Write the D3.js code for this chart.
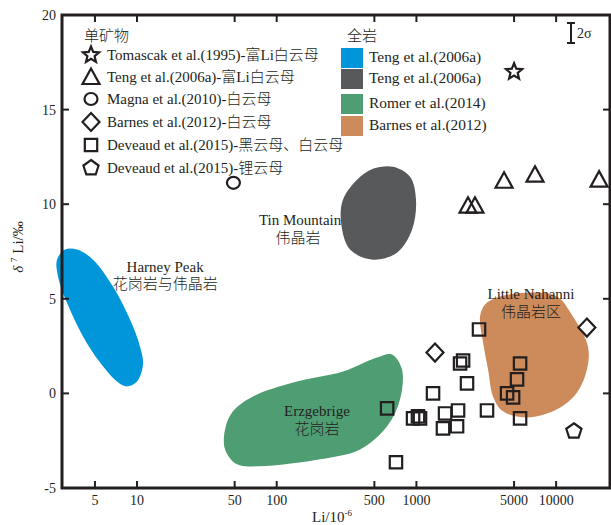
<!DOCTYPE html>
<html><head><meta charset="utf-8">
<script src="https://cdn.jsdelivr.net/npm/d3@7/dist/d3.min.js"></script>
<style>body{margin:0;background:#fff}svg{display:block}text{font-weight:300}</style>
</head><body>
<svg id="c" width="611" height="525"></svg>
<script>
// ---------- data ----------
const xTicks = [5, 10, 50, 100, 500, 1000, 5000, 10000];
const yTicks = [-5, 0, 5, 10, 15, 20];

const starData = [[5000, 17.0]];
const triangleData = [[2340, 9.92], [2625, 9.92], [4240, 11.24], [7060, 11.56], [20300, 11.3]];
const circleData = [[49, 11.13]];
const diamondData = [[1358, 2.16], [16600, 3.48]];
const squareData = [
  [2806, 3.38], [2158, 1.74], [2053, 1.58], [5520, 1.58], [5250, 0.74], [2302, 0.53],
  [1315, 0.0], [4456, 0.0], [4920, -0.21], [617, -0.79], [3200, -0.9], [1986, -0.9],
  [1603, -1.06], [946, -1.32], [1026, -1.21], [1061, -1.32], [5520, -1.32],
  [1954, -1.74], [1549, -1.85], [714, -3.64]
];
const pentagonData = [[13400, -2.0]];

const harneyPeak = [[3.05,7.6],[2.675,7.07],[2.72,6.17],[3.15,4.8],[4.11,3.01],[5.43,1.64],[7.19,0.63],[8.48,0.37],[10,0.63],[11.04,1.53],[10.5,2.48],[8.91,3.9],[6.73,5.65],[4.84,7.07],[3.72,7.6]];
const tinMountain = [[680,11.98],[900,11.45],[993,10.24],[930,8.65],[726,7.44],[489,7.07],[335,7.6],[289,9.02],[298,10.24],[376,11.29],[489,11.87]];
const erzgebrige = [[668,2.06],[788,1.27],[763,-0.32],[617,-1.74],[395,-2.96],[204,-3.48],[75.9,-3.85],[52,-3.75],[42.7,-2.96],[42.7,-1.9],[48.6,-0.95],[67.6,-0.16],[131,0.58],[298,1.16],[522,1.9]];
const littleNahanni = [[3776,5.07],[6500,5.33],[10140,5.12],[13200,4.06],[16900,2.48],[16630,1.27],[14110,0.05],[10140,-0.84],[6190,-1.27],[4170,-0.95],[3535,-0.16],[3255,1.27],[3000,2.69],[2853,4.06],[3098,4.7]];

const fieldColors = ["#0096d9", "#58595b", "#4f9e73", "#cd8a5b"];
const mineralLegend = [
  "Tomascak et al.(1995)-富Li白云母",
  "Teng et al.(2006a)-富Li白云母",
  "Magna et al.(2010)-白云母",
  "Barnes et al.(2012)-白云母",
  "Deveaud et al.(2015)-黑云母、白云母",
  "Deveaud et al.(2015)-锂云母"
];
const rockLegend = ["Teng et al.(2006a)", "Teng et al.(2006a)", "Romer et al.(2014)", "Barnes et al.(2012)"];

// ---------- chart ----------
const svg = d3.select("#c");
const x = d3.scaleLog().domain([2.905, 24300]).range([62, 610]);
const y = d3.scaleLinear().domain([-5, 20]).range([488, 15]);
const serif = "'Liberation Serif','Times New Roman','Noto Sans CJK SC',serif";
const ink = "#231f20";

// fields
const areaLine = d3.line().x(d => x(d[0])).y(d => y(d[1])).curve(d3.curveCatmullRomClosed.alpha(0.5));
[harneyPeak, tinMountain, erzgebrige, littleNahanni].forEach((pts, i) => {
  svg.append("path").attr("d", areaLine(pts)).attr("fill", fieldColors[i]);
});

// field labels
const labels = [
  {t: "Harney Peak", x: 15.9, y: 6.42, a: "middle"},
  {t: "花岗岩与伟晶岩", x: 15.9, y: 5.5, a: "middle"},
  {t: "Tin Mountain", x: 290, y: 8.9, a: "end"},
  {t: "伟晶岩", x: 142, y: 7.95, a: "middle"},
  {t: "Erzgebrige", x: 194, y: -1.2, a: "middle"},
  {t: "花岗岩", x: 194, y: -2.15, a: "middle"},
  {t: "Little Nahanni", x: 6610, y: 5.0, a: "middle"},
  {t: "伟晶岩区", x: 6610, y: 4.05, a: "middle"}
];
svg.selectAll(".lbl").data(labels).enter().append("text")
  .attr("x", d => x(d.x)).attr("y", d => y(d.y))
  .attr("text-anchor", d => d.a)
  .attr("font-family", serif).attr("font-size", 15).attr("fill", "#231f20")
  .text(d => d.t);

// frame + axes
const g = svg.append("g");
g.append("rect").attr("x", 62).attr("y", 15).attr("width", 548).attr("height", 473)
  .attr("fill", "none").attr("stroke", ink).attr("stroke-width", 3);
const tl = 7;
xTicks.forEach(v => {
  g.append("line").attr("x1", x(v)).attr("x2", x(v)).attr("y1", 488).attr("y2", 488 - tl).attr("stroke", ink).attr("stroke-width", 2);
  g.append("line").attr("x1", x(v)).attr("x2", x(v)).attr("y1", 15).attr("y2", 15 + tl).attr("stroke", ink).attr("stroke-width", 2);
  g.append("text").attr("x", x(v)).attr("y", 505).attr("text-anchor", "middle")
    .attr("font-family", serif).attr("font-size", 14).attr("fill", ink).text(v);
});
yTicks.forEach(v => {
  g.append("line").attr("x1", 62).attr("x2", 62 + tl).attr("y1", y(v)).attr("y2", y(v)).attr("stroke", ink).attr("stroke-width", 2);
  g.append("line").attr("x1", 610).attr("x2", 610 - tl).attr("y1", y(v)).attr("y2", y(v)).attr("stroke", ink).attr("stroke-width", 2);
  g.append("text").attr("x", 56).attr("y", y(v) + 5).attr("text-anchor", "end")
    .attr("font-family", serif).attr("font-size", 14).attr("fill", ink).text(v);
});
// axis titles
const xt = svg.append("text").attr("x", 312).attr("y", 522).attr("font-family", serif).attr("font-size", 15).attr("fill", ink);
xt.append("tspan").text("Li/10");
xt.append("tspan").attr("dy", -6).attr("font-size", 9).text("-6");
const yt = svg.append("text").attr("transform", "translate(23,247) rotate(-90)").attr("text-anchor", "middle")
  .attr("font-family", serif).attr("font-size", 15).attr("fill", ink);
yt.append("tspan").attr("font-style", "italic").text("δ ");
yt.append("tspan").attr("dy", -6).attr("font-size", 9).text("7");
yt.append("tspan").attr("dy", 6).text(" Li/‰");

// 2 sigma bar
g.append("path").attr("d", "M567,23H575M571,23V43M567,43H575").attr("stroke", ink).attr("stroke-width", 2).attr("fill", "none");
g.append("text").attr("x", 577).attr("y", 38).attr("font-family", serif).attr("font-size", 14).attr("fill", ink).text("2σ");

// ---------- marker shapes ----------
function starPath(R, r) {
  const p = [];
  for (let i = 0; i < 10; i++) {
    const rad = i % 2 ? r : R, a = -Math.PI / 2 + i * Math.PI / 5;
    p.push([rad * Math.cos(a), rad * Math.sin(a)]);
  }
  return "M" + p.map(q => q.join(",")).join("L") + "Z";
}
function polyPath(n, R) {
  const p = [];
  for (let i = 0; i < n; i++) { const a = -Math.PI / 2 + i * 2 * Math.PI / n; p.push([R * Math.cos(a), R * Math.sin(a)]); }
  return "M" + p.map(q => q.join(",")).join("L") + "Z";
}
const shapes = {
  star: starPath(8.5, 3.8),
  triangle: "M0,-8.5L8.5,7L-8.5,7Z",
  circle: "M-6.5,0A6.5,6,0,1,0,6.5,0A6.5,6,0,1,0,-6.5,0Z",
  diamond: "M0,-9L8.5,0L0,9L-8.5,0Z",
  square: "M-6.2,-6.2H6.2V6.2H-6.2Z",
  pentagon: polyPath(5, 8)
};
function plot(data, shape) {
  svg.selectAll(null).data(data).enter().append("path")
    .attr("transform", d => `translate(${x(d[0])},${y(d[1])})`)
    .attr("d", shapes[shape]).attr("fill", "none").attr("stroke", ink).attr("stroke-width", 2.2)
    .attr("stroke-linejoin", "miter");
}
plot(starData, "star");
plot(triangleData, "triangle");
plot(circleData, "circle");
plot(diamondData, "diamond");
plot(squareData, "square");
plot(pentagonData, "pentagon");

// ---------- legends ----------
const lg = svg.append("g");
lg.append("text").attr("x", 84).attr("y", 41).attr("font-family", serif).attr("font-size", 15).attr("fill", ink).text("单矿物");
const legShapes = ["star", "triangle", "circle", "diamond", "square", "pentagon"];
const legY = [55, 77, 99, 122, 145, 168];
mineralLegend.forEach((t, i) => {
  lg.append("path").attr("transform", `translate(91,${legY[i]})`).attr("d", shapes[legShapes[i]])
    .attr("fill", "none").attr("stroke", ink).attr("stroke-width", 2.2);
  lg.append("text").attr("x", 107).attr("y", legY[i] + 5).attr("font-family", serif).attr("font-size", 15).attr("fill", ink).text(t);
});
lg.append("text").attr("x", 347).attr("y", 41).attr("font-family", serif).attr("font-size", 15).attr("fill", ink).text("全岩");
const boxY = [48, 69, 94, 116];
rockLegend.forEach((t, i) => {
  lg.append("rect").attr("x", 341).attr("y", boxY[i]).attr("width", 22).attr("height", 20).attr("fill", fieldColors[i]);
  lg.append("text").attr("x", 369).attr("y", boxY[i] + 14).attr("font-family", serif).attr("font-size", 15.4).attr("fill", ink).text(t);
});
</script>
</body></html>
